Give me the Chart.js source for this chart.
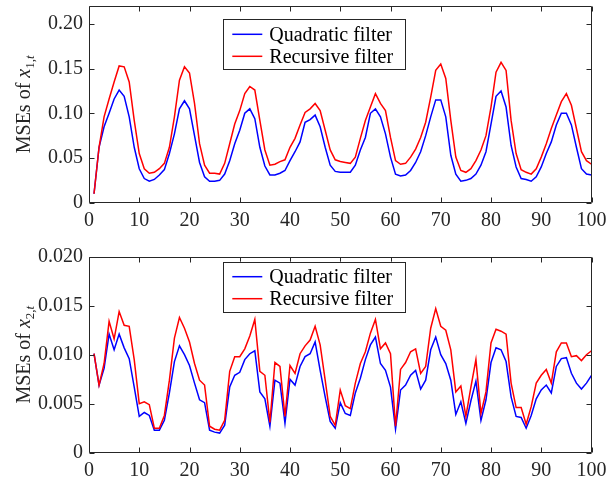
<!DOCTYPE html>
<html>
<head>
<meta charset="utf-8">
<script src="https://cdn.jsdelivr.net/npm/chart.js@4.4.0/dist/chart.umd.min.js"></script>
<style>
  body { margin: 0; background: #fff; }
  .panel { position: absolute; left: 0; }
</style>
</head>
<body>
<div class="panel" style="top:0"><canvas id="chartX1" width="608" height="240"></canvas></div>
<div class="panel" style="top:240px"><canvas id="chartX2" width="608" height="243"></canvas></div>
<script>
// time steps 1..100
const steps = Array.from({ length: 100 }, (_, i) => i + 1);
const xTicks = [0, 10, 20, 30, 40, 50, 60, 70, 80, 90, 100];
const seriesLabels = ["Quadratic filter", "Recursive filter"];

// MSEs of x_{1,t}
const quadX1 = [
  0.010, 0.062, 0.085, 0.100, 0.116, 0.126, 0.119, 0.096, 0.062, 0.038,
  0.027, 0.024, 0.026, 0.031, 0.037, 0.055, 0.077, 0.105, 0.114, 0.105,
  0.075, 0.045, 0.029, 0.024, 0.024, 0.025, 0.032, 0.047, 0.066, 0.081,
  0.100, 0.105, 0.094, 0.062, 0.041, 0.031, 0.031, 0.033, 0.036, 0.047,
  0.057, 0.068, 0.090, 0.093, 0.098, 0.085, 0.062, 0.042, 0.035, 0.034,
  0.034, 0.034, 0.042, 0.059, 0.073, 0.100, 0.105, 0.096, 0.077, 0.051,
  0.032, 0.030, 0.031, 0.036, 0.045, 0.057, 0.075, 0.096, 0.115, 0.115,
  0.096, 0.053, 0.032, 0.024, 0.025, 0.027, 0.032, 0.042, 0.057, 0.088,
  0.119, 0.125, 0.107, 0.064, 0.040, 0.027, 0.026, 0.024, 0.029, 0.040,
  0.055, 0.068, 0.087, 0.100, 0.100, 0.087, 0.062, 0.038, 0.032, 0.031
];
const recX1 = [
  0.010, 0.062, 0.096, 0.116, 0.135, 0.153, 0.152, 0.135, 0.092, 0.055,
  0.038, 0.033, 0.034, 0.038, 0.044, 0.062, 0.096, 0.137, 0.152, 0.145,
  0.111, 0.066, 0.042, 0.033, 0.033, 0.032, 0.044, 0.066, 0.088, 0.103,
  0.122, 0.130, 0.126, 0.092, 0.059, 0.042, 0.043, 0.046, 0.048, 0.062,
  0.072, 0.087, 0.101, 0.105, 0.111, 0.103, 0.081, 0.059, 0.048, 0.046,
  0.045, 0.044, 0.051, 0.072, 0.092, 0.107, 0.122, 0.111, 0.103, 0.073,
  0.047, 0.043, 0.044, 0.051, 0.060, 0.073, 0.090, 0.118, 0.148, 0.155,
  0.139, 0.092, 0.051, 0.036, 0.034, 0.038, 0.047, 0.059, 0.075, 0.107,
  0.146, 0.157, 0.148, 0.092, 0.055, 0.037, 0.034, 0.032, 0.038, 0.051,
  0.066, 0.083, 0.098, 0.113, 0.122, 0.109, 0.083, 0.057, 0.047, 0.043
];
const yTicksX1 = [0, 0.05, 0.10, 0.15, 0.20];
const yLabelsX1 = ["0", "0.05", "0.10", "0.15", "0.20"];

// MSEs of x_{2,t}
const quadX2 = [
  0.0101, 0.0069, 0.0086, 0.0121, 0.0105, 0.0121, 0.0107, 0.0096, 0.0067, 0.0037,
  0.0041, 0.0038, 0.0023, 0.0023, 0.0033, 0.0061, 0.0093, 0.0109, 0.0100, 0.0089,
  0.0071, 0.0054, 0.0051, 0.0023, 0.0021, 0.0020, 0.0028, 0.0067, 0.0079, 0.0082,
  0.0095, 0.0101, 0.0104, 0.0062, 0.0055, 0.0027, 0.0074, 0.0071, 0.0030, 0.0075,
  0.0069, 0.0088, 0.0098, 0.0101, 0.0113, 0.0084, 0.0057, 0.0032, 0.0025, 0.0051,
  0.0040, 0.0038, 0.0061, 0.0076, 0.0095, 0.0110, 0.0118, 0.0091, 0.0084, 0.0067,
  0.0024, 0.0064, 0.0069, 0.0079, 0.0084, 0.0065, 0.0074, 0.0105, 0.0118, 0.0100,
  0.0091, 0.0074, 0.0039, 0.0052, 0.0030, 0.0053, 0.0073, 0.0033, 0.0054, 0.0092,
  0.0107, 0.0105, 0.0093, 0.0057, 0.0037, 0.0036, 0.0025, 0.0038, 0.0055, 0.0064,
  0.0069, 0.0061, 0.0088, 0.0096, 0.0097, 0.0081, 0.0071, 0.0065, 0.0071, 0.0079
];
const recX2 = [
  0.0101, 0.0069, 0.0091, 0.0134, 0.0116, 0.0144, 0.0130, 0.0129, 0.0095, 0.0050,
  0.0052, 0.0049, 0.0025, 0.0025, 0.0038, 0.0074, 0.0117, 0.0138, 0.0127, 0.0113,
  0.0091, 0.0074, 0.0069, 0.0027, 0.0024, 0.0023, 0.0033, 0.0083, 0.0098, 0.0098,
  0.0106, 0.0119, 0.0136, 0.0083, 0.0079, 0.0031, 0.0092, 0.0088, 0.0037, 0.0089,
  0.0081, 0.0101, 0.0109, 0.0115, 0.0129, 0.0110, 0.0074, 0.0037, 0.0028, 0.0064,
  0.0048, 0.0045, 0.0071, 0.0091, 0.0103, 0.0122, 0.0136, 0.0106, 0.0112, 0.0101,
  0.0027, 0.0085, 0.0092, 0.0103, 0.0106, 0.0081, 0.0088, 0.0127, 0.0147, 0.0129,
  0.0125, 0.0105, 0.0062, 0.0068, 0.0037, 0.0067, 0.0095, 0.0040, 0.0062, 0.0112,
  0.0126, 0.0124, 0.0121, 0.0071, 0.0046, 0.0046, 0.0029, 0.0047, 0.0071, 0.0079,
  0.0085, 0.0071, 0.0103, 0.0112, 0.0112, 0.0098, 0.0099, 0.0094, 0.0100, 0.0104
];
const yTicksX2 = [0, 0.005, 0.010, 0.015, 0.020];
const yLabelsX2 = ["0", "0.005", "0.010", "0.015", "0.020"];

const AXIS_COLOR = "#262626";
const FONT = "'Liberation Serif', 'Times New Roman', serif";
const FONT_SIZE = 20;

// matlab-like box with inward ticks, legend inside the axes, and y label with subscript
const matlabAxes = {
  id: "matlabAxes",
  afterDraw(chart, args, opts) {
    const { ctx, chartArea: a, scales } = chart;
    ctx.save();

    // box + ticks
    ctx.strokeStyle = AXIS_COLOR;
    ctx.lineWidth = 1;
    ctx.beginPath();
    const L = Math.round(a.left) + 0.5, R = Math.round(a.right) - 0.5;
    const T = Math.round(a.top) + 0.5, B = Math.round(a.bottom) - 0.5;
    ctx.rect(L, T, R - L, B - T);
    scales.x.ticks.forEach((t) => {
      const px = Math.round(scales.x.getPixelForValue(t.value)) + 0.5;
      ctx.moveTo(px, B); ctx.lineTo(px, B - 5);
      ctx.moveTo(px, T); ctx.lineTo(px, T + 5);
    });
    scales.y.ticks.forEach((t) => {
      const py = Math.round(scales.y.getPixelForValue(t.value)) + 0.5;
      ctx.moveTo(L, py); ctx.lineTo(L + 5, py);
      ctx.moveTo(R, py); ctx.lineTo(R - 5, py);
    });
    ctx.stroke();

    // legend
    const lx = a.left + opts.legendX, ly = a.top + opts.legendY;
    ctx.fillStyle = "#fff";
    ctx.fillRect(lx, ly, opts.legendW, opts.legendH);
    ctx.strokeStyle = AXIS_COLOR;
    ctx.strokeRect(Math.round(lx) + 0.5, Math.round(ly) + 0.5, opts.legendW, opts.legendH);
    ctx.font = `${FONT_SIZE}px ${FONT}`;
    ctx.textBaseline = "middle";
    ctx.textAlign = "left";
    chart.data.datasets.forEach((ds, i) => {
      const cy = ly + 15 + i * 22;
      ctx.strokeStyle = ds.borderColor;
      ctx.lineWidth = 1.5;
      ctx.beginPath();
      ctx.moveTo(lx + 9, cy); ctx.lineTo(lx + 39, cy);
      ctx.stroke();
      ctx.fillStyle = "#000";
      ctx.fillText(ds.label, lx + 46, cy + 1);
    });

    // y title: MSEs of x_{k,t}
    const cy = (a.top + a.bottom) / 2;
    ctx.translate(opts.titleX, cy);
    ctx.rotate(-Math.PI / 2);
    ctx.fillStyle = AXIS_COLOR;
    ctx.textBaseline = "alphabetic";
    const parts = [
      { text: "MSEs of ", font: `${FONT_SIZE}px ${FONT}`, dy: 0 },
      { text: "x", font: `italic ${FONT_SIZE}px ${FONT}`, dy: 0 },
      { text: opts.sub + ",", font: `13px ${FONT}`, dy: 4 },
      { text: "t", font: `italic 13px ${FONT}`, dy: 4 }
    ];
    let total = 0;
    parts.forEach((p) => { ctx.font = p.font; p.w = ctx.measureText(p.text).width; total += p.w; });
    let x = -total / 2;
    parts.forEach((p) => {
      ctx.font = p.font;
      ctx.fillText(p.text, x, p.dy);
      x += p.w;
    });
    ctx.restore();
  }
};

function makeChart(id, quad, rec, yMax, yTicks, yLabels, sub, padTop, xAxisHeight, legendY) {
  const ctx = document.getElementById(id).getContext("2d");
  return new Chart(ctx, {
    type: "line",
    data: {
      datasets: [
        {
          label: seriesLabels[0],
          data: quad.map((v, i) => ({ x: steps[i], y: v })),
          borderColor: "#0000ff",
          borderWidth: 1.5,
          pointRadius: 0,
          tension: 0,
          order: 1
        },
        {
          label: seriesLabels[1],
          data: rec.map((v, i) => ({ x: steps[i], y: v })),
          borderColor: "#ff0000",
          borderWidth: 1.5,
          pointRadius: 0,
          tension: 0,
          order: 0
        }
      ]
    },
    options: {
      responsive: false,
      animation: false,
      devicePixelRatio: 1,
      layout: { padding: { top: padTop, right: 16.5, bottom: 0, left: 0 } },
      scales: {
        x: {
          type: "linear",
          min: 0,
          max: 100,
          afterBuildTicks: (s) => { s.ticks = xTicks.map((v) => ({ value: v })); },
          afterFit: (s) => {
            s.height = xAxisHeight;
            s.paddingLeft = 0;
            s.paddingRight = 0;
          },
          grid: { display: false, drawTicks: false },
          border: { display: false },
          ticks: {
            color: AXIS_COLOR,
            font: { family: FONT, size: FONT_SIZE },
            padding: 6,
            maxRotation: 0,
            autoSkip: false,
            callback: (v) => String(v)
          }
        },
        y: {
          min: 0,
          max: yMax,
          afterBuildTicks: (s) => { s.ticks = yTicks.map((v) => ({ value: v })); },
          afterFit: (s) => {
            s.width = 89;
            s.paddingTop = 0;
            s.paddingBottom = 0;
          },
          grid: { display: false, drawTicks: false },
          border: { display: false },
          ticks: {
            color: AXIS_COLOR,
            font: { family: FONT, size: FONT_SIZE },
            padding: 6,
            callback: (v, i) => yLabels[i]
          }
        }
      },
      plugins: {
        legend: { display: false },
        tooltip: { enabled: false },
        matlabAxes: {
          legendX: 134.3,
          legendY: legendY,
          legendW: 182,
          legendH: 50,
          titleX: 30,
          sub: sub
        }
      }
    },
    plugins: [matlabAxes]
  });
}

makeChart("chartX1", quadX1, recX1, 0.22, yTicksX1, yLabelsX1, "1", 6, 37.3, 13.3);
makeChart("chartX2", quadX2, recX2, 0.020, yTicksX2, yLabelsX2, "2", 16.7, 30.3, 5);
</script>
</body>
</html>
